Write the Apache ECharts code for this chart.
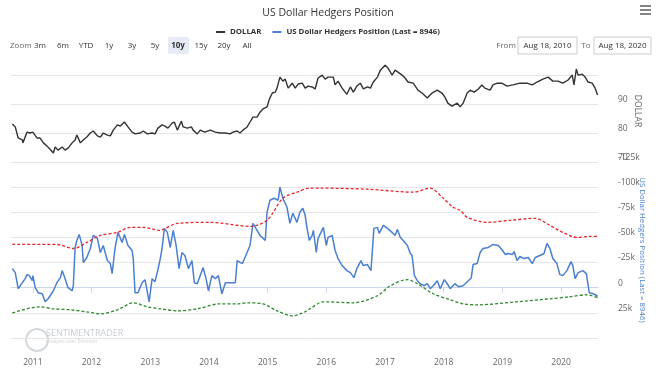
<!DOCTYPE html>
<html><head><meta charset="utf-8">
<script src="https://cdn.jsdelivr.net/npm/echarts@6/dist/echarts.min.js"></script>
<style>html,body{margin:0;padding:0;background:#fff}#c{width:656px;height:371px}</style>
</head><body><div id="c"></div>
<script>
// ---- data (dates as decimal years) ----
const dollarDates = [2010.65,2010.70,2010.75,2010.82,2010.83,2010.90,2010.95,2011.00,2011.07,2011.12,2011.18,2011.24,2011.29,2011.35,2011.38,2011.43,2011.50,2011.55,2011.60,2011.67,2011.72,2011.75,2011.81,2011.86,2011.92,2011.98,2012.03,2012.10,2012.15,2012.20,2012.27,2012.32,2012.37,2012.44,2012.49,2012.56,2012.62,2012.69,2012.74,2012.83,2012.88,2012.95,2013.03,2013.08,2013.13,2013.20,2013.25,2013.30,2013.37,2013.41,2013.46,2013.53,2013.56,2013.63,2013.70,2013.73,2013.80,2013.85,2013.93,2014.02,2014.11,2014.19,2014.28,2014.36,2014.41,2014.48,2014.53,2014.58,2014.65,2014.70,2014.75,2014.82,2014.87,2014.92,2014.99,2015.03,2015.08,2015.13,2015.16,2015.21,2015.26,2015.30,2015.35,2015.42,2015.47,2015.52,2015.59,2015.64,2015.69,2015.76,2015.81,2015.86,2015.93,2015.98,2016.03,2016.12,2016.15,2016.20,2016.27,2016.32,2016.35,2016.41,2016.46,2016.52,2016.58,2016.63,2016.70,2016.75,2016.80,2016.87,2016.92,2017.00,2017.05,2017.12,2017.17,2017.22,2017.29,2017.34,2017.39,2017.48,2017.56,2017.63,2017.72,2017.80,2017.89,2017.97,2018.02,2018.07,2018.14,2018.23,2018.28,2018.33,2018.40,2018.45,2018.52,2018.59,2018.65,2018.70,2018.79,2018.84,2018.91,2018.99,2019.08,2019.18,2019.30,2019.42,2019.51,2019.59,2019.69,2019.78,2019.86,2019.95,2020.03,2020.12,2020.19,2020.22,2020.26,2020.29,2020.36,2020.41,2020.46,2020.53,2020.58,2020.62];
const dollarValues = [83.1,82.1,78.3,77.6,76.6,80.3,80.0,80.3,78.3,78.3,76.6,75.5,74.5,73.1,75.2,74.1,75.2,74.1,74.8,76.6,77.6,79.3,76.6,77.6,78.6,80.0,80.7,79.0,78.6,80.0,79.3,79.0,81.0,82.8,82.4,83.8,82.1,80.3,79.7,80.0,80.7,79.7,80.0,79.7,81.7,82.8,82.4,81.7,83.4,83.8,81.0,84.1,82.1,81.7,82.1,81.0,79.7,81.0,80.3,81.0,80.3,80.0,80.0,79.7,80.3,80.7,80.0,81.0,82.1,83.8,85.5,85.5,87.2,88.3,89.0,91.7,93.8,94.1,95.5,99.3,97.9,98.6,95.5,97.2,95.5,96.9,97.2,95.5,96.2,95.9,95.2,99.0,100.0,98.6,99.3,99.3,96.6,97.9,95.5,94.1,93.4,95.9,94.1,96.2,97.2,95.2,95.9,95.5,97.6,99.3,101.7,103.4,102.4,100.0,101.7,101.0,100.0,99.0,97.6,97.2,94.8,93.8,92.1,93.8,94.8,93.8,92.4,90.3,89.3,90.3,89.0,90.3,93.8,94.8,94.1,95.2,96.6,95.5,94.8,96.6,97.2,97.2,96.2,96.6,97.2,97.2,96.6,97.6,98.6,99.3,97.9,97.9,97.2,98.3,100.0,96.6,102.1,100.0,100.3,99.3,97.6,97.2,95.5,93.1];

const hedgerDates = [2010.65,2010.70,2010.75,2010.82,2010.87,2010.90,2010.94,2010.99,2011.00,2011.04,2011.09,2011.16,2011.21,2011.26,2011.35,2011.41,2011.47,2011.50,2011.55,2011.60,2011.67,2011.69,2011.72,2011.75,2011.79,2011.84,2011.86,2011.92,2011.98,2012.03,2012.10,2012.15,2012.20,2012.27,2012.32,2012.35,2012.40,2012.45,2012.52,2012.56,2012.62,2012.69,2012.71,2012.74,2012.79,2012.86,2012.91,2012.98,2013.03,2013.08,2013.13,2013.17,2013.20,2013.24,2013.29,2013.34,2013.39,2013.44,2013.49,2013.54,2013.59,2013.65,2013.71,2013.75,2013.80,2013.85,2013.90,2013.95,2013.99,2014.05,2014.11,2014.16,2014.22,2014.28,2014.36,2014.45,2014.48,2014.57,2014.65,2014.70,2014.75,2014.80,2014.87,2014.96,2014.99,2015.04,2015.11,2015.18,2015.21,2015.26,2015.33,2015.38,2015.43,2015.50,2015.55,2015.60,2015.64,2015.67,2015.71,2015.76,2015.78,2015.83,2015.86,2015.91,2015.95,2016.00,2016.03,2016.10,2016.15,2016.20,2016.27,2016.35,2016.41,2016.47,2016.52,2016.59,2016.63,2016.70,2016.76,2016.81,2016.87,2016.90,2016.97,2017.04,2017.12,2017.17,2017.21,2017.26,2017.31,2017.38,2017.43,2017.46,2017.50,2017.55,2017.60,2017.67,2017.72,2017.77,2017.82,2017.89,2017.94,2018.01,2018.06,2018.11,2018.19,2018.25,2018.33,2018.42,2018.47,2018.50,2018.57,2018.62,2018.67,2018.76,2018.84,2018.93,2018.99,2019.05,2019.10,2019.17,2019.20,2019.25,2019.30,2019.37,2019.44,2019.51,2019.56,2019.64,2019.71,2019.76,2019.81,2019.86,2019.93,2019.98,2020.03,2020.10,2020.17,2020.20,2020.24,2020.29,2020.37,2020.43,2020.48,2020.55,2020.61,2020.62];
const hedgerValues = [-19000,-15000,1000,-5000,-9000,-13000,-12000,-7000,-12000,0,5000,6000,14000,11000,3000,-5000,-10000,-17000,-9000,0,3000,-2000,-40000,-47000,-53000,-42000,-25000,-30000,-39000,-52000,-49000,-35000,-42000,-27000,-24000,-14000,-39000,-55000,-45000,-53000,-42000,-37000,-29000,5000,5000,-5000,-8000,14000,-9000,-6000,-18000,-29000,-39000,-59000,-55000,-40000,-57000,-42000,-19000,-35000,-32000,-19000,-27000,-5000,-4000,-12000,-20000,-9000,3000,-12000,-9000,-12000,6000,-5000,-5000,-5000,-27000,-24000,-35000,-42000,-64000,-59000,-52000,-47000,-75000,-87000,-89000,-87000,-100000,-89000,-80000,-64000,-74000,-65000,-75000,-79000,-72000,-60000,-47000,-52000,-57000,-35000,-49000,-55000,-60000,-42000,-50000,-52000,-37000,-29000,-22000,-17000,-15000,-10000,-19000,-27000,-22000,-23000,-17000,-59000,-60000,-54000,-62000,-59000,-55000,-52000,-58000,-50000,-47000,-42000,-34000,-32000,-12000,-7000,-4000,-2000,-4000,1000,-2000,-7000,1000,-8000,-4000,1000,-4000,-1000,-2000,-7000,-10000,-23000,-24000,-35000,-39000,-40000,-43000,-42000,-38000,-33000,-34000,-33000,-36000,-27000,-31000,-29000,-30000,-24000,-30000,-32000,-34000,-44000,-39000,-29000,-24000,-13000,-12000,-17000,-26000,-22000,-9000,-15000,-17000,-14000,5000,6000,8000,8946];

const upperBandDates = [2010.65,2011.41,2011.69,2011.92,2012.15,2012.44,2012.66,2012.88,2013.17,2013.22,2013.46,2014.02,2014.70,2014.99,2015.26,2015.50,2015.72,2015.89,2016.69,2017.48,2017.77,2017.99,2018.16,2018.28,2018.40,2018.74,2019.13,2019.56,2019.81,2020.03,2020.27,2020.49,2020.62];
const upperBandValues = [-43000,-43000,-39000,-45000,-52000,-55000,-60000,-60000,-57000,-58000,-64000,-65000,-61000,-67000,-89000,-95000,-99000,-99000,-98000,-95000,-99000,-89000,-80000,-77000,-70000,-65000,-67000,-69000,-62000,-55000,-50000,-51000,-51000];

const lowerBandDates = [2010.65,2011.12,2011.35,2011.64,2011.92,2012.15,2012.44,2012.71,2012.95,2013.17,2013.46,2013.80,2014.19,2014.48,2014.65,2014.92,2015.16,2015.43,2015.60,2015.72,2015.95,2016.46,2016.87,2017.09,2017.38,2017.55,2017.82,2018.11,2018.33,2018.57,2019.25,2019.81,2020.15,2020.44,2020.62];
const lowerBandValues = [25000,19000,21000,22000,24000,26000,22000,15000,19000,21000,23000,21000,16000,16000,15000,16000,23000,28000,25000,21000,14000,15000,8000,-2000,-8000,-4000,6000,12000,16000,17000,14000,11000,9000,7000,10000];

const dollarTickLabels = [70, 80, 90];
const hedgerTickLabels = [-125000, -100000, -75000, -50000, -25000, 0, 25000];
const rangeButtons = ['3m','6m','YTD','1y','3y','5y','10y','15y','20y','All'];
const fromDate = 'Aug 18, 2010', toDate = 'Aug 18, 2020';

// ---- helpers ----
function yearToTime(y){ const yr=Math.floor(y); const s=Date.UTC(yr,0,1), e=Date.UTC(yr+1,0,1); return s+(y-yr)*(e-s); }
function pairs(ds, vs){ return ds.map((d,i)=>[yearToTime(d), vs[i]]); }

const xMin = Date.UTC(2010,7,18), xMax = Date.UTC(2020,7,18);
const FONT = "'Open Sans', 'Noto Sans', sans-serif";
const YEAR = 365*24*3600*1000;

const chart = echarts.init(document.getElementById('c'), null, {renderer:'canvas'});

const graphics = [];
graphics.push({type:'text', x:10, y:45.5, style:{text:'Zoom', font:'8px '+FONT, fill:'#666', verticalAlign:'middle'}});
rangeButtons.forEach((b,i)=>{
  const cx = 40 + i*23;
  if (b === '10y') graphics.push({type:'rect', shape:{x:cx-10, y:37, width:21, height:17, r:2}, style:{fill:'#e6ebf5'}});
  graphics.push({type:'text', x:cx, y:45.5, style:{text:b, font:(b==='10y'?'bold ':'')+'8px '+FONT, fill:'#333', align:'center', verticalAlign:'middle'}});
});
graphics.push({type:'text', x:506, y:45.5, style:{text:'From', font:'8px '+FONT, fill:'#666', align:'center', verticalAlign:'middle'}});
graphics.push({type:'rect', shape:{x:518, y:37, width:59, height:17}, style:{fill:'#fff', stroke:'#ccc', lineWidth:1}});
graphics.push({type:'text', x:547.5, y:45.5, style:{text:fromDate, font:'8px '+FONT, fill:'#333', align:'center', verticalAlign:'middle'}});
graphics.push({type:'text', x:586, y:45.5, style:{text:'To', font:'8px '+FONT, fill:'#666', align:'center', verticalAlign:'middle'}});
graphics.push({type:'rect', shape:{x:594, y:37, width:57, height:17}, style:{fill:'#fff', stroke:'#ccc', lineWidth:1}});
graphics.push({type:'text', x:622.5, y:45.5, style:{text:toDate, font:'8px '+FONT, fill:'#333', align:'center', verticalAlign:'middle'}});
[6,10,14].forEach(y=>graphics.push({type:'line', shape:{x1:640, y1:y, x2:651, y2:y}, style:{stroke:'#666', lineWidth:1.6}}));
graphics.push({type:'circle', shape:{cx:37, cy:340, r:11}, style:{fill:'none', stroke:'#d5d9de', lineWidth:2}});
graphics.push({type:'text', x:46, y:333, style:{text:'SENTIMENTRADER', font:'9px '+FONT, fill:'#c9cdd2', verticalAlign:'middle'}});
graphics.push({type:'text', x:46, y:342, style:{text:'Analysis over Emotion', font:'5px '+FONT, fill:'#d0d4d8', verticalAlign:'middle'}});

const option = {
  animation:false,
  backgroundColor:'#fff',
  textStyle:{fontFamily:FONT},
  title:{text:'US Dollar Hedgers Position', left:'center', top:3, textStyle:{fontSize:10.5, fontWeight:'normal', color:'#333', fontFamily:FONT}},
  legend:{top:23, left:'center', data:['DOLLAR','US Dollar Hedgers Position (Last = 8946)'], icon:'rect', itemWidth:9, itemHeight:2, itemGap:11,
          textStyle:{fontSize:7.8, fontWeight:'bold', color:'#333', fontFamily:FONT}},
  graphic: graphics,
  grid:[
    {left:11, right:58, top:60, height:102, outerBoundsMode:'none', containLabel:false},
    {left:11, right:58, top:162, height:176, outerBoundsMode:'none', containLabel:false}
  ],
  xAxis:[
    {type:'time', gridIndex:0, min:xMin, max:xMax, show:false, splitLine:{show:false}},
    {type:'time', gridIndex:1, min:xMin, max:xMax, offset:14, minInterval:YEAR, maxInterval:366*24*3600*1000,
     axisLine:{show:true, lineStyle:{color:'#ccd6eb'}}, axisTick:{show:true, length:5, lineStyle:{color:'#ccd6eb'}},
     axisLabel:{formatter:'{yyyy}', fontSize:8.5, color:'#666', margin:6, fontFamily:FONT}, splitLine:{show:false}}
  ],
  yAxis:[
    {type:'value', gridIndex:0, position:'right', min:70, max:105.2, interval:10,
     name:'DOLLAR', nameLocation:'middle', nameRotate:-90, nameGap:35, nameMoveOverlap:false,
     nameTextStyle:{fontSize:8.5, color:'#666', fontFamily:FONT},
     axisLine:{show:false}, axisTick:{show:false},
     axisLabel:{margin:20, fontSize:8.5, color:'#666', verticalAlign:'bottom', fontFamily:FONT,
       formatter:v=>dollarTickLabels.includes(v)?String(v):''},
     splitLine:{show:true, showMaxLine:false, lineStyle:{color:'#e6e6e6'}}},
    {type:'value', gridIndex:1, position:'right', inverse:true, min:-125000, max:50000, interval:25000,
     name:'US Dollar Hedgers Position (Last = 8946)', nameLocation:'middle', nameRotate:-90, nameGap:40, nameMoveOverlap:false,
     nameTextStyle:{fontSize:7.8, color:'#4a7fcf', fontFamily:FONT},
     axisLine:{show:false}, axisTick:{show:false},
     axisLabel:{margin:20, fontSize:8.5, color:'#666', verticalAlign:'bottom', fontFamily:FONT,
       formatter:v=>hedgerTickLabels.includes(v)?(v===0?'0':(v/1000)+'k'):''},
     splitLine:{show:true, lineStyle:{color:'#e6e6e6'}}}
  ],
  series:[
    {name:'DOLLAR', type:'line', xAxisIndex:0, yAxisIndex:0, data:pairs(dollarDates,dollarValues), showSymbol:false, symbol:'none',
     lineStyle:{color:'#333', width:1.4}, itemStyle:{color:'#333'}},
    {name:'US Dollar Hedgers Position (Last = 8946)', type:'line', xAxisIndex:1, yAxisIndex:1, data:pairs(hedgerDates,hedgerValues), showSymbol:false, symbol:'none',
     lineStyle:{color:'#4a7fd2', width:1.5}, itemStyle:{color:'#4a7fd2'}, z:3},
    {name:'Upper Band', type:'line', xAxisIndex:1, yAxisIndex:1, data:pairs(upperBandDates,upperBandValues), showSymbol:false, symbol:'none', smooth:0.3,
     lineStyle:{color:'#e8262a', width:1.3, type:[3,2]}, itemStyle:{color:'#e8262a'}},
    {name:'Lower Band', type:'line', xAxisIndex:1, yAxisIndex:1, data:pairs(lowerBandDates,lowerBandValues), showSymbol:false, symbol:'none', smooth:0.3,
     lineStyle:{color:'#2e8b2e', width:1.3, type:[3,2]}, itemStyle:{color:'#2e8b2e'}}
  ]
};
chart.setOption(option);
</script>
</body></html>
